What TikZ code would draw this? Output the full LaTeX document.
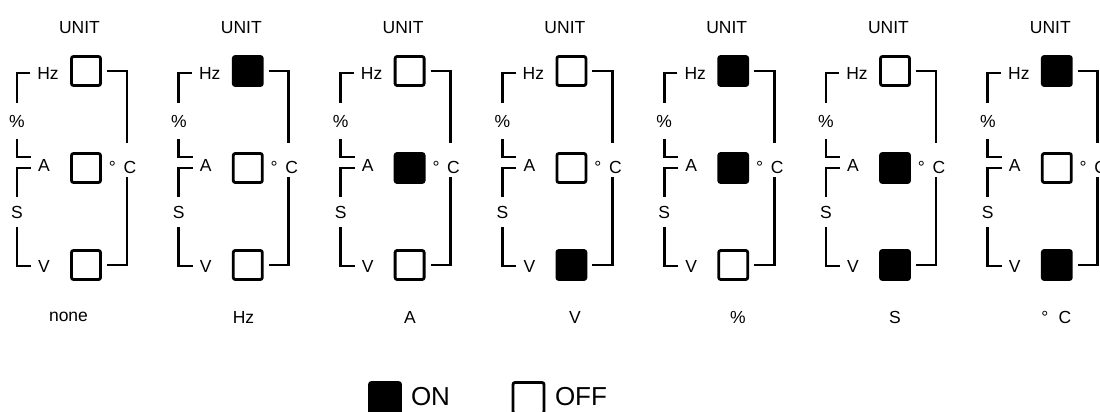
\documentclass[tikz,border=0pt]{standalone}
\usepackage{fontspec}
\setmainfont{Liberation Sans}
\tikzset{
  lbl/.style={inner sep=0pt, font=\fontsize{17.5}{20}\selectfont},
  offbox/.style={draw, line width=2.8pt, rounded corners=2pt, minimum size=29pt, inner sep=0pt, fill=white},
  onbox/.style={offbox, fill=black},
  wire/.style={line width=2.8pt},
  legbox/.style={draw, line width=2.8pt, rounded corners=2pt, minimum width=31pt, minimum height=31pt, inner sep=0pt},
  legtext/.style={inner sep=0pt, font=\fontsize{26}{30}\selectfont},
}
\newcommand\unitpanel[6]{%
\begin{scope}[xshift=#1*161.8pt]
  \node[lbl] (u#1) at (79.5,28) {UNIT};
  \node[#2] (t#1) at (86,71) {};
  \node[#3] (m#1) at (86,168) {};
  \node[#4] (b#1) at (86,265) {};
  \node[lbl] (hz#1) at (48,73) {Hz};
  \node[lbl] (pc#1) at (17,121) {\%};
  \node[lbl] (a#1) at (44,165) {A};
  \node[lbl] (s#1) at (17,212) {S};
  \node[lbl] (v#1) at (44,266) {V};
  \node[lbl] (dc#1) at (122.6,167) {°\hspace{7.7pt}C};
  \draw[wire] ([xshift=-7pt]hz#1.west) -| ([yshift=12pt]pc#1.north);
  \draw[wire] ([yshift=-12pt]pc#1.south) |- ([xshift=-7pt,yshift=8pt]a#1.west);
  \draw[wire] ([xshift=-7pt,yshift=-3pt]a#1.west) -| ([yshift=9pt]s#1.north);
  \draw[wire] ([yshift=-9pt]s#1.south) |- ([xshift=-7pt]v#1.west);
  \draw[wire] ([xshift=5pt]t#1.east) -| ([xshift=4.4pt,yshift=18pt]dc#1.north);
  \draw[wire] ([xshift=4.4pt,yshift=-4pt]dc#1.south) |- ([xshift=5pt]b#1.east);
  \node[lbl] (l#1) at (#6,317) {#5};
\end{scope}}
\begin{document}
\begin{tikzpicture}[x=1pt,y=-1pt]
  \useasboundingbox (0,0) rectangle (1100,412);
  \clip (0,0) rectangle (1100,412);
  \fill[white] (0,0) rectangle (1100,412);
  \unitpanel{0}{offbox}{offbox}{offbox}{none}{68.5}
  \unitpanel{1}{onbox}{offbox}{offbox}{Hz}{81.7}
  \unitpanel{2}{offbox}{onbox}{offbox}{A}{86.4}
  \unitpanel{3}{offbox}{offbox}{onbox}{V}{89.6}
  \unitpanel{4}{onbox}{onbox}{offbox}{\%}{90.8}
  \unitpanel{5}{offbox}{onbox}{onbox}{S}{86}
  \unitpanel{6}{onbox}{offbox}{onbox}{°\hspace{10.2pt}C}{85.6}
  \node[legbox, fill=black] (onkey) at (385,398) {};
  \node[legtext] (ontext) at (430.5,397) {ON};
  \node[legbox] (offkey) at (528.5,398) {};
  \node[legtext] (offtext) at (581,397) {OFF};
\end{tikzpicture}
\end{document}
